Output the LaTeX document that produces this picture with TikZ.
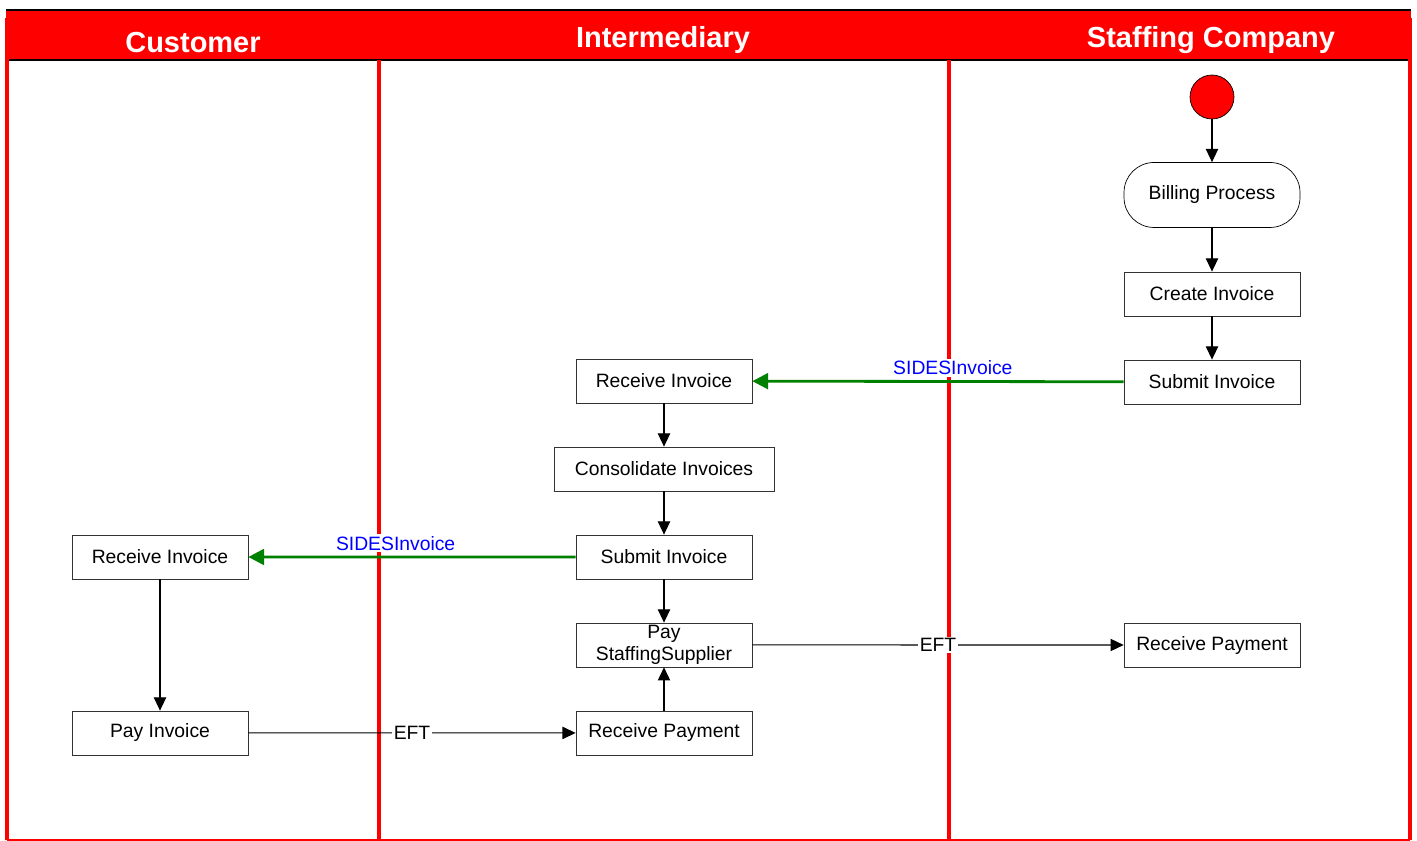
\documentclass[tikz,border=0pt]{standalone}
\usepackage{fontspec}
\setmainfont{Liberation Sans}
\usetikzlibrary{shapes.geometric, arrows.meta, positioning}
\tikzstyle{startnode} = [circle,
minimum size=0.88cm,
inner sep=0pt,
draw=black,
fill=red]
\tikzstyle{activity} = [rectangle, rounded corners=0.6cm,
minimum width=3.52cm,
minimum height=1.3cm,
text centered,
draw=black,
font=\fontsize{11}{12.5}\selectfont]
\tikzstyle{process} = [rectangle,
minimum width=3.52cm,
minimum height=0.88cm,
inner ysep=0pt,
text centered,
align=center,
draw=black!80,
font=\fontsize{11}{12.5}\selectfont]
\tikzstyle{lanetitle} = [text=white, font=\fontsize{16.5}{18}\selectfont\bfseries]
\tikzstyle{lane} = [red, line width=2.3pt]
\tikzstyle{arrow} = [line width=0.6pt, -{Triangle[length=7.5pt, width=7pt]}]
\tikzstyle{msgarrow} = [line width=1.6pt, green!50!black, -{Triangle[length=9pt, width=9pt]}]
\tikzstyle{msglabel} = [text=blue, fill=white, inner sep=1pt, font=\fontsize{11}{12.5}\selectfont]
\tikzstyle{eft} = [fill=white, inner sep=1pt, font=\fontsize{11}{12.5}\selectfont]

\begin{document}
\begin{tikzpicture}[x=0.02cm, y=-0.02cm, node distance=1.76cm]
    \useasboundingbox (0,0) rectangle (1417,841);

    % swimlanes
    \fill [red] (6,10) rectangle (1411,60);
    \draw [line width=1.2pt] (6,10) -- (1411,10);
    \draw [line width=1.2pt] (8,60) -- (1409,60);
    \draw [lane] (7,18) -- (7,840);
    \draw [lane] (1410,18) -- (1410,840);
    \foreach \x in {379, 949}
        \draw [lane] (\x,60) -- (\x,840);
    \draw [red, line width=1.2pt] (7,840) -- (1410,840);

    \node (customer) [lanetitle] at (193,43) {Customer};
    \node (intermediary) [lanetitle] at (663,40) {Intermediary};
    \node (staffing) [lanetitle] at (1211,40) {Staffing Company};

    % staffing company
    \node (start) [startnode] at (1212,97) {};
    \node (billing) [activity, below of=start, yshift=-0.2cm] {Billing Process};
    \node (create) [process, below of=billing, yshift=-0.22cm] {Create Invoice};
    \node (submitS) [process, below of=create] {Submit Invoice};
    \node (receivePS) [process] at (1212,645) {Receive Payment};

    % intermediary
    \node (receiveI) [process] at (664,381) {Receive Invoice};
    \node (consolidate) [process, below of=receiveI, minimum width=4.4cm] {Consolidate Invoices};
    \node (submitI) [process, below of=consolidate] {Submit Invoice};
    \node (paySupplier) [process, below of=submitI] {Pay\\StaffingSupplier};
    \node (receivePI) [process, below of=paySupplier] {Receive Payment};

    % customer
    \node (receiveC) [process] at (160,557) {Receive Invoice};
    \node (payC) [process, below of=receiveC, yshift=-1.76cm] {Pay Invoice};

    \draw [arrow] (start) -- (billing);
    \draw [arrow] (billing) -- (create);
    \draw [arrow] (create) -- (submitS);
    \draw [msgarrow] (submitS) -- node [msglabel, above=2pt, pos=0.46] {SIDESInvoice} (receiveI);
    \draw [arrow] (receiveI) -- (consolidate);
    \draw [arrow] (consolidate) -- (submitI);
    \draw [msgarrow] (submitI) -- node [msglabel, above=2pt, pos=0.55] {SIDESInvoice} (receiveC);
    \draw [arrow] (submitI) -- (paySupplier);
    \draw [arrow] (receiveC) -- (payC);
    \draw [arrow] (payC) -- node [eft] {EFT} (receivePI);
    \draw [arrow] (receivePI) -- (paySupplier);
    \draw [arrow] (paySupplier) -- node [eft] {EFT} (receivePS);

\end{tikzpicture}
\end{document}
